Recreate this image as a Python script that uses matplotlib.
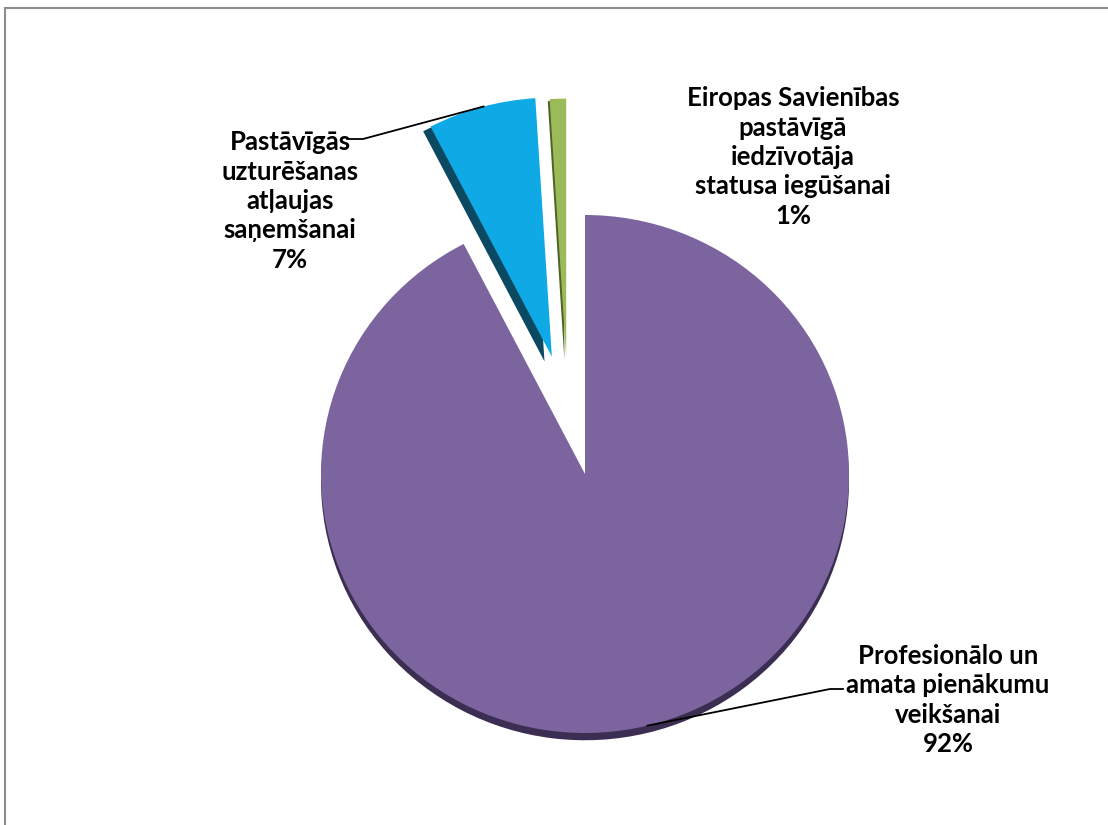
import numpy as np
import matplotlib.pyplot as plt
from matplotlib.lines import Line2D

# dati
kategorijas = ['Profesionālo un\namata pienākumu\nveikšanai',
               'Pastāvīgās\nuzturēšanas\natļaujas\nsaņemšanai',
               'Eiropas Savienības\npastāvīgā\niedzīvotāja\nstatusa iegūšanai']
vertibas = [92.4, 6.6, 1.0]
procenti = ['92%', '7%', '1%']

krasas = ['#7C659F', '#0FAAE6', '#9BBB59']
enas = ['#3B2E52', '#0B4862', '#4F6228']
izvirzit = [0.0, 0.47, 0.455]
# virziens, kura sektors izvirzits (gradi), None = pa vidu
virziens = [None, None, 99]
# enas nobide katram sektoram
enas_nobide = [(0.0, -0.028), (-0.028, -0.018), (-0.007, -0.008)]

fig = plt.figure(figsize=(11.08, 8.25), dpi=100)
ax = fig.add_axes([0, 0, 1, 1])

# pikseli -> datu vienibas
Rx, Ry = 264.0, 259.0
cx, cy = 585.0, 474.0


def limits():
    ax.set_xlim(-cx / Rx, (1108 - cx) / Rx)
    ax.set_ylim(-(825 - cy) / Ry, cy / Ry)
    ax.set_aspect('auto')
    ax.axis('off')


enas_w, _ = ax.pie(vertibas, colors=enas, explode=izvirzit, startangle=90,
                   counterclock=False, radius=1,
                   wedgeprops=dict(linewidth=0), frame=True)
wedges, _ = ax.pie(vertibas, colors=krasas, explode=izvirzit, startangle=90,
                   counterclock=False, radius=1,
                   wedgeprops=dict(linewidth=0), frame=True)
limits()

for i in range(len(vertibas)):
    if virziens[i] is not None:
        a = np.deg2rad(virziens[i])
        c = (izvirzit[i] * np.cos(a), izvirzit[i] * np.sin(a))
        wedges[i].set_center(c)
        enas_w[i].set_center(c)
    x0, y0 = enas_w[i].center
    enas_w[i].set_center((x0 + enas_nobide[i][0], y0 + enas_nobide[i][1]))


def punkts(w, lenkis):
    # punkts uz sektora loka
    x0, y0 = w.center
    a = np.deg2rad(lenkis)
    return x0 + w.r * np.cos(a), y0 + w.r * np.sin(a)


def d(px, py):
    return (px - cx) / Rx, (cy - py) / Ry


# etiketes
teksti_poz = [d(948, 700), d(290, 201), d(793, 157)]
for i, (x, y) in enumerate(teksti_poz):
    ax.text(x, y, kategorijas[i] + '\n' + procenti[i], ha='center', va='center',
            fontsize=18.5, fontweight='bold', family=['Lato', 'DejaVu Sans'],
            linespacing=1.27, color='black')

# vadlinijas
w0 = wedges[0]
p = punkts(w0, (w0.theta1 + w0.theta2) / 2)
b1, b2 = d(830, 689), d(843, 689)
ax.plot([p[0], b1[0], b2[0]], [p[1], b1[1], b2[1]], color='black', lw=1.3)

w1 = wedges[1]
p = punkts(w1, 105)
b1, b2 = d(363, 139), d(347, 139)
ax.plot([p[0], b1[0], b2[0]], [p[1], b1[1], b2[1]], color='black', lw=1.3)

# ramis
fig.add_artist(Line2D([5 / 1108, 5 / 1108], [0, 1 - 8 / 825], color='#8c8c8c', lw=1.5))
fig.add_artist(Line2D([5 / 1108, 1], [1 - 8 / 825, 1 - 8 / 825], color='#8c8c8c', lw=1.5))

fig.savefig('out.png', dpi=100, facecolor='white')
